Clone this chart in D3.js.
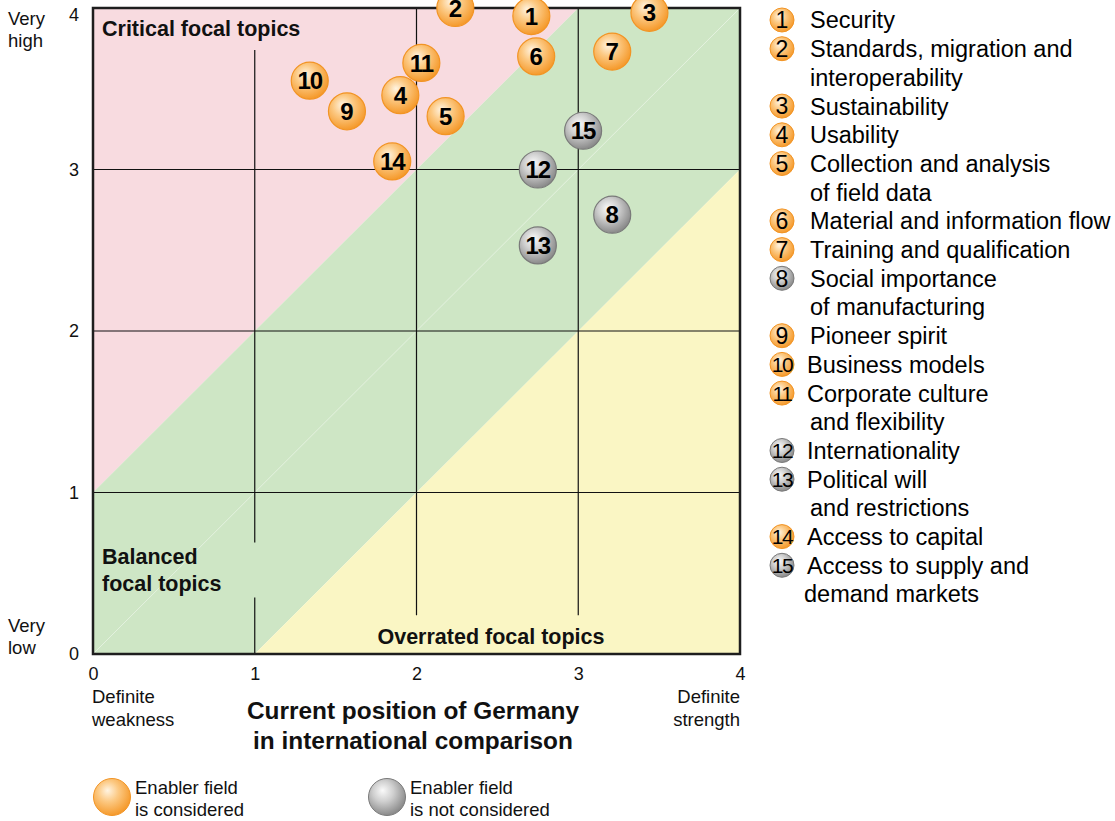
<!DOCTYPE html>
<html>
<head>
<meta charset="utf-8">
<script src="https://cdn.jsdelivr.net/npm/d3@7"></script>
<style>
  html, body { margin: 0; padding: 0; background: #fff; }
  svg { display: block; font-family: "Liberation Sans", Arial, sans-serif; }
</style>
</head>
<body>
<svg id="chart" width="1115" height="821"></svg>
<script>
/* ---------- data ---------- */
const ids        = [1, 2, 3, 4, 5, 6, 7, 8, 9, 10, 11, 12, 13, 14, 15];
const importance = [3.95, 4.0, 3.97, 3.46, 3.33, 3.70, 3.73, 2.72, 3.36, 3.55, 3.66, 3.0, 2.53, 3.05, 3.24]; // y
const position   = [2.71, 2.24, 3.44, 1.90, 2.18, 2.74, 3.21, 3.21, 1.57, 1.34, 2.03, 2.75, 2.75, 1.85, 3.03]; // x
const considered = [true, true, true, true, true, true, true, false, true, true, true, false, false, true, false];
const topicLines = [
  ['Security'],
  ['Standards, migration and', 'interoperability'],
  ['Sustainability'],
  ['Usability'],
  ['Collection and analysis', 'of field data'],
  ['Material and information flow'],
  ['Training and qualification'],
  ['Social importance', 'of manufacturing'],
  ['Pioneer spirit'],
  ['Business models'],
  ['Corporate culture', 'and flexibility'],
  ['Internationality'],
  ['Political will', 'and restrictions'],
  ['Access to capital'],
  ['Access to supply and', 'demand markets']
];

const ticks       = [0, 1, 2, 3, 4];
const yEndLabels  = [['Very', 'high'], ['Very', 'low']];
const xEndLabels  = [['Definite', 'weakness'], ['Definite', 'strength']];
const xTitle      = ['Current position of Germany', 'in international comparison'];
const zoneNames   = ['Critical focal topics', 'Balanced', 'focal topics', 'Overrated focal topics'];
const keyLabels   = [['Enabler field', 'is considered'], ['Enabler field', 'is not considered']];

// zones (corners in data units)
const pinkZone   = [[0, 1], [0, 4], [3, 4]];
const greenZone  = [[0, 0], [0, 1], [3, 4], [4, 4], [4, 3], [1, 0]];
const yellowZone = [[1, 0], [4, 3], [4, 0]];

// grid line segments: [fixed value, from, to]
const vGrid = [[1, 0, 0.35], [1, 0.69, 3.74], [2, 0.24, 4], [3, 0.24, 4]];
const hGrid = [[1, 0, 4], [2, 0, 4], [3, 0, 4]];

/* ---------- setup ---------- */
const COLORS = {
  pink: '#f8dbe0', green: '#cee6c5', yellow: '#faf6c4',
  frame: '#1e1e1e', text: '#111'
};

const svg = d3.select('#chart');
const x = d3.scaleLinear().domain([0, 4]).range([93, 740]);
const y = d3.scaleLinear().domain([0, 4]).range([654, 8]);

const defs = svg.append('defs');
function gradient(id, inner, mid, outer) {
  const g = defs.append('radialGradient').attr('id', id)
    .attr('cx', '42%').attr('cy', '38%').attr('r', '62%').attr('fx', '38%').attr('fy', '32%');
  g.append('stop').attr('offset', '0%').attr('stop-color', inner);
  g.append('stop').attr('offset', '45%').attr('stop-color', mid);
  g.append('stop').attr('offset', '100%').attr('stop-color', outer);
}
gradient('gOrange', '#fff4e2', '#fcc983', '#f59a2c');
gradient('gGray', '#fafafa', '#cfcfcf', '#8a8a8a');

const poly = pts => pts.map(p => [x(p[0]), y(p[1])].join(',')).join(' ');

// zones
svg.append('polygon').attr('points', poly(pinkZone)).attr('fill', COLORS.pink);
svg.append('polygon').attr('points', poly(greenZone)).attr('fill', COLORS.green);
svg.append('polygon').attr('points', poly(yellowZone)).attr('fill', COLORS.yellow);

// faint diagonal
svg.append('line')
  .attr('x1', x(0)).attr('y1', y(0)).attr('x2', x(4)).attr('y2', y(4))
  .attr('stroke', '#fff').attr('stroke-opacity', 0.45).attr('stroke-width', 1);

// grid
svg.selectAll('.vgrid').data(vGrid).join('line')
  .attr('x1', d => x(d[0])).attr('x2', d => x(d[0]))
  .attr('y1', d => y(d[1])).attr('y2', d => y(d[2]))
  .attr('stroke', '#111').attr('stroke-width', 1.2);
svg.selectAll('.hgrid').data(hGrid).join('line')
  .attr('y1', d => y(d[0])).attr('y2', d => y(d[0]))
  .attr('x1', d => x(d[1])).attr('x2', d => x(d[2]))
  .attr('stroke', '#111').attr('stroke-width', 1.2);

// frame
svg.append('rect')
  .attr('x', x(0)).attr('y', y(4)).attr('width', x(4) - x(0)).attr('height', y(0) - y(4))
  .attr('fill', 'none').attr('stroke', COLORS.frame).attr('stroke-width', 2.5);

// axes
const xAxis = svg.append('g').attr('transform', `translate(0,${y(0) + 10})`)
  .call(d3.axisBottom(x).tickValues(ticks).tickSize(0).tickFormat(d3.format('d')));
xAxis.select('.domain').remove();
xAxis.selectAll('text').attr('font-size', 18).attr('fill', COLORS.text)
  .attr('font-family', '"Liberation Sans", Arial, sans-serif');

const yAxis = svg.append('g').attr('transform', `translate(${x(0) - 11},0)`)
  .call(d3.axisLeft(y).tickValues(ticks).tickSize(0).tickFormat(d3.format('d')));
yAxis.select('.domain').remove();
yAxis.selectAll('text').attr('font-size', 18).attr('fill', COLORS.text)
  .attr('font-family', '"Liberation Sans", Arial, sans-serif');
yAxis.selectAll('.tick').filter(d => d === 4).attr('transform', `translate(0,${y(4) + 7})`);

// text helper
function lines(sel, arr, px, py, lh, anchor, size, weight) {
  arr.forEach((t, i) => sel.append('text')
    .attr('x', px).attr('y', py + i * lh)
    .attr('text-anchor', anchor).attr('font-size', size)
    .attr('font-weight', weight || 'normal').attr('fill', COLORS.text)
    .text(t));
}
lines(svg, yEndLabels[0], 8, 25, 22, 'start', 18.5);
lines(svg, yEndLabels[1], 8, 632, 22, 'start', 18.5);
lines(svg, xEndLabels[0], 92, 703, 23, 'start', 18.5);
lines(svg, xEndLabels[1], 740, 703, 23, 'end', 18.5);
lines(svg, xTitle, 413, 719, 30, 'middle', 24.4, 'bold');

// zone labels
lines(svg, [zoneNames[0]], 102, 36, 0, 'start', 21.5, 'bold');
lines(svg, [zoneNames[1], zoneNames[2]], 102, 564, 27, 'start', 21.5, 'bold');
lines(svg, [zoneNames[3]], 491, 644, 0, 'middle', 21.5, 'bold');

// bubbles
const bubbles = ids.map((id, i) => ({ id, x: position[i], y: importance[i], on: considered[i] }));
const bg = svg.selectAll('.bubble').data(bubbles).join('g')
  .attr('class', 'bubble')
  .attr('transform', d => `translate(${x(d.x)},${y(d.y)})`);
bg.append('circle').attr('r', 18.5)
  .attr('fill', d => d.on ? 'url(#gOrange)' : 'url(#gGray)')
  .attr('stroke', d => d.on ? '#f29424' : '#7a7a7a').attr('stroke-width', 1.2);
bg.append('text').attr('text-anchor', 'middle').attr('dy', '0.36em')
  .attr('font-size', 24).attr('font-weight', 'bold').attr('fill', '#000')
  .attr('letter-spacing', d => d.id > 9 ? -1 : 0)
  .text(d => d.id);

// right legend
const rowH = 28.7;
let row = 0;
ids.forEach((id, i) => {
  const cy = 20 + row * rowH;
  const g = svg.append('g');
  g.append('circle').attr('cx', 782).attr('cy', cy).attr('r', 12)
    .attr('fill', considered[i] ? 'url(#gOrange)' : 'url(#gGray)')
    .attr('stroke', considered[i] ? '#f29424' : '#7a7a7a').attr('stroke-width', 1);
  g.append('text').attr('x', 782).attr('y', cy).attr('dy', '0.36em')
    .attr('text-anchor', 'middle').attr('font-size', id > 9 ? 21 : 23)
    .attr('letter-spacing', id > 9 ? -1.5 : 0).attr('fill', '#000').text(id);
  topicLines[i].forEach((t, k) => {
    g.append('text')
      .attr('x', k === 0 ? (id > 9 ? 807 : 810) : (id === 15 ? 804 : 810))
      .attr('y', cy + k * rowH).attr('dy', '0.36em')
      .attr('font-size', 23.5).attr('fill', '#000')
      .text(t);
  });
  row += topicLines[i].length;
});

// bottom key
[[112, true], [387, false]].forEach(([kx, on], i) => {
  svg.append('circle').attr('cx', kx).attr('cy', 797).attr('r', 18.5)
    .attr('fill', on ? 'url(#gOrange)' : 'url(#gGray)')
    .attr('stroke', on ? '#f29424' : '#7a7a7a').attr('stroke-width', 1);
  lines(svg, keyLabels[i], kx + 23, 794, 22, 'start', 18.5);
});
</script>
</body>
</html>
